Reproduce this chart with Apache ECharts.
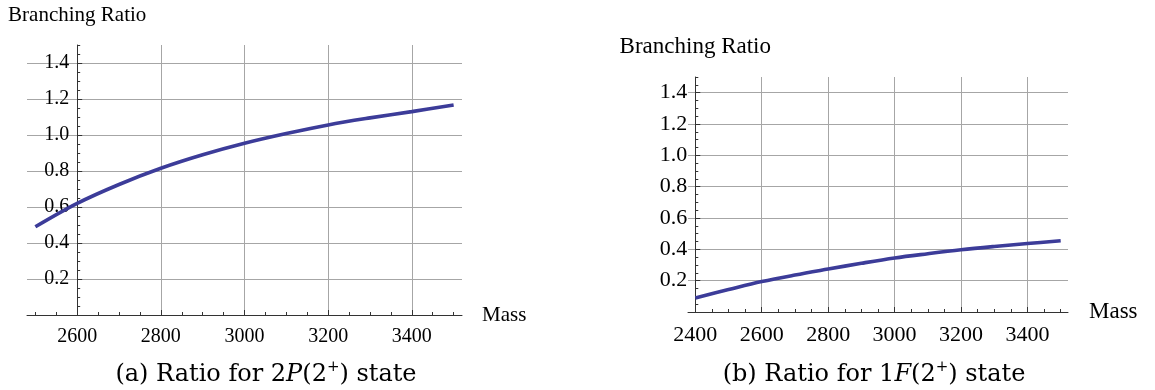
<!DOCTYPE html>
<html><head><meta charset="utf-8">
<script src="https://cdn.jsdelivr.net/npm/echarts@6/dist/echarts.min.js"></script>
<style>html,body{margin:0;padding:0;background:#fff}#c{width:1155px;height:390px}</style>
</head><body><div id="c"></div>
<script>
// ---- data ----
const massA  = [2500, 2600, 2700, 2800, 2900, 3000, 3100, 3200, 3300, 3400, 3500];
const ratioA = [0.49, 0.62, 0.725, 0.815, 0.89, 0.954, 1.008, 1.056, 1.095, 1.130, 1.167];
const massB  = [2400, 2500, 2600, 2700, 2800, 2900, 3000, 3100, 3200, 3300, 3400, 3500];
const ratioB = [0.09, 0.143, 0.194, 0.236, 0.274, 0.311, 0.345, 0.372, 0.397, 0.418, 0.437, 0.455];

// ---- axes / ticks ----
const xRangeA = [2480, 3520];
const xRangeB = [2378, 3522];
const yRange  = [0, 1.5];
const xMajorA = [2600, 2800, 3000, 3200, 3400];
const xMajorB = [2400, 2600, 2800, 3000, 3200, 3400];
const xMinorA = [2500, 2550, 2600, 2650, 2700, 2750, 2800, 2850, 2900, 2950, 3000, 3050, 3100, 3150, 3200, 3250, 3300, 3350, 3400, 3450, 3500];
const xMinorB = [2400, 2450, 2500, 2550, 2600, 2650, 2700, 2750, 2800, 2850, 2900, 2950, 3000, 3050, 3100, 3150, 3200, 3250, 3300, 3350, 3400, 3450, 3500];
const yMajor  = [0.2, 0.4, 0.6, 0.8, 1.0, 1.2, 1.4];
const yMinor  = [0.05, 0.1, 0.15, 0.2, 0.25, 0.3, 0.35, 0.4, 0.45, 0.5, 0.55, 0.6, 0.65, 0.7, 0.75, 0.8, 0.85, 0.9, 0.95, 1.0, 1.05, 1.1, 1.15, 1.2, 1.25, 1.3, 1.35, 1.4, 1.45, 1.5];
const yName = 'Branching Ratio';
const xName = 'Mass';
const captionA = '(a) Ratio for 2{i|P}(2{sup|+}) state';
const captionB = '(b) Ratio for 1{i|F}(2{sup|+}) state';

const SERIF = '"Liberation Serif", "Times New Roman", serif';
const CAP = '"DejaVu Serif", serif';
const AXIS = '#333';
const GRIDC = '#a6a6a6';
const LINEC = '#3c3c99';

function pairs(xs, ys) { return xs.map((x, i) => [x, ys[i]]); }

function xMajorAxis(grid, range, ticks, fs, gap, margin) {
  return {
    type: 'value', gridIndex: grid, position: 'bottom', min: range[0], max: range[1],
    name: xName, nameLocation: 'end', nameGap: gap,
    nameTextStyle: { fontFamily: SERIF, fontSize: fs + 1, color: '#000', verticalAlign: 'middle' },
    axisLine: { show: true, onZero: false, lineStyle: { color: AXIS, width: 1 } },
    axisTick: { show: true, inside: true, length: 5, customValues: ticks, lineStyle: { color: AXIS } },
    axisLabel: { show: true, customValues: ticks, margin: margin, fontFamily: SERIF, fontSize: fs, color: '#000',
      formatter: v => String(v) },
    splitLine: { show: true, lineStyle: { color: GRIDC, width: 1 } }
  };
}
function xMinorAxis(grid, range, ticks) {
  return {
    type: 'value', gridIndex: grid, position: 'bottom', min: range[0], max: range[1],
    axisLine: { show: false },
    axisTick: { show: true, inside: true, length: 3, customValues: ticks, lineStyle: { color: AXIS } },
    axisLabel: { show: false }, splitLine: { show: false }
  };
}
function yMajorAxis(grid, fs, gap) {
  return {
    type: 'value', gridIndex: grid, position: 'left', min: yRange[0], max: yRange[1],
    name: yName, nameLocation: 'end', nameGap: gap,
    nameTextStyle: { fontFamily: SERIF, fontSize: fs + 1, color: '#000', align: 'center' },
    axisLine: { show: true, onZero: false, lineStyle: { color: AXIS, width: 1 } },
    axisTick: { show: true, inside: true, length: 5, customValues: yMajor, lineStyle: { color: AXIS } },
    axisLabel: { show: true, customValues: yMajor, margin: 8, fontFamily: SERIF, fontSize: fs, color: '#000',
      formatter: v => Number(v).toFixed(1) },
    splitLine: { show: true, lineStyle: { color: GRIDC, width: 1 } }
  };
}
function yMinorAxis(grid) {
  return {
    type: 'value', gridIndex: grid, position: 'left', min: yRange[0], max: yRange[1],
    axisLine: { show: false, onZero: false },
    axisTick: { show: true, inside: true, length: 3, customValues: yMinor, lineStyle: { color: AXIS } },
    axisLabel: { show: false }, splitLine: { show: false }
  };
}
const rich = {
  i: { fontFamily: CAP, fontSize: 24, fontStyle: 'italic', color: '#000' },
  sup: { fontFamily: CAP, fontSize: 15, color: '#000', verticalAlign: 'top', lineHeight: 30 }
};

const chart = echarts.init(document.getElementById('c'), null, { renderer: 'canvas' });
const option = {
  backgroundColor: '#fff',
  animation: false,
  title: [
    { text: captionA, left: 261, top: 355, textAlign: 'center',
      textStyle: { fontFamily: CAP, fontSize: 24, fontWeight: 'normal', color: '#000', rich: rich } },
    { text: captionB, left: 869, top: 355, textAlign: 'center',
      textStyle: { fontFamily: CAP, fontSize: 24, fontWeight: 'normal', color: '#000', rich: rich } }
  ],
  grid: [
    { left: 27, top: 45, width: 435, height: 270, containLabel: false, outerBoundsMode: 'none' },
    { left: 688, top: 77, width: 380, height: 235, containLabel: false, outerBoundsMode: 'none' }
  ],
  xAxis: [
    xMajorAxis(0, xRangeA, xMajorA, 20, 20, 12),
    xMinorAxis(0, xRangeA, xMinorA),
    xMajorAxis(1, xRangeB, xMajorB, 22, 21, 12),
    xMinorAxis(1, xRangeB, xMinorB)
  ],
  yAxis: [
    yMajorAxis(0, 20, 19),
    yMinorAxis(0),
    yMajorAxis(1, 22, 19),
    yMinorAxis(1)
  ],
  series: [
    { type: 'line', xAxisIndex: 0, yAxisIndex: 0, data: pairs(massA, ratioA), smooth: 0.35,
      showSymbol: false, lineStyle: { color: LINEC, width: 3.6 }, z: 5 },
    { type: 'line', xAxisIndex: 2, yAxisIndex: 2, data: pairs(massB, ratioB), smooth: 0.35,
      showSymbol: false, lineStyle: { color: LINEC, width: 3.6 }, z: 5 }
  ]
};
chart.setOption(option);
// place the vertical axes where Mathematica put them (at x = 2600 and x = 2400)
const offA = chart.convertToPixel({ xAxisIndex: 0 }, xRangeA[0]) - chart.convertToPixel({ xAxisIndex: 0 }, xMajorA[0]);
const offB = chart.convertToPixel({ xAxisIndex: 2 }, xRangeB[0]) - chart.convertToPixel({ xAxisIndex: 2 }, xMajorB[0]);
chart.setOption({ yAxis: [{ offset: offA }, { offset: offA }, { offset: offB }, { offset: offB }] });
</script></body></html>
